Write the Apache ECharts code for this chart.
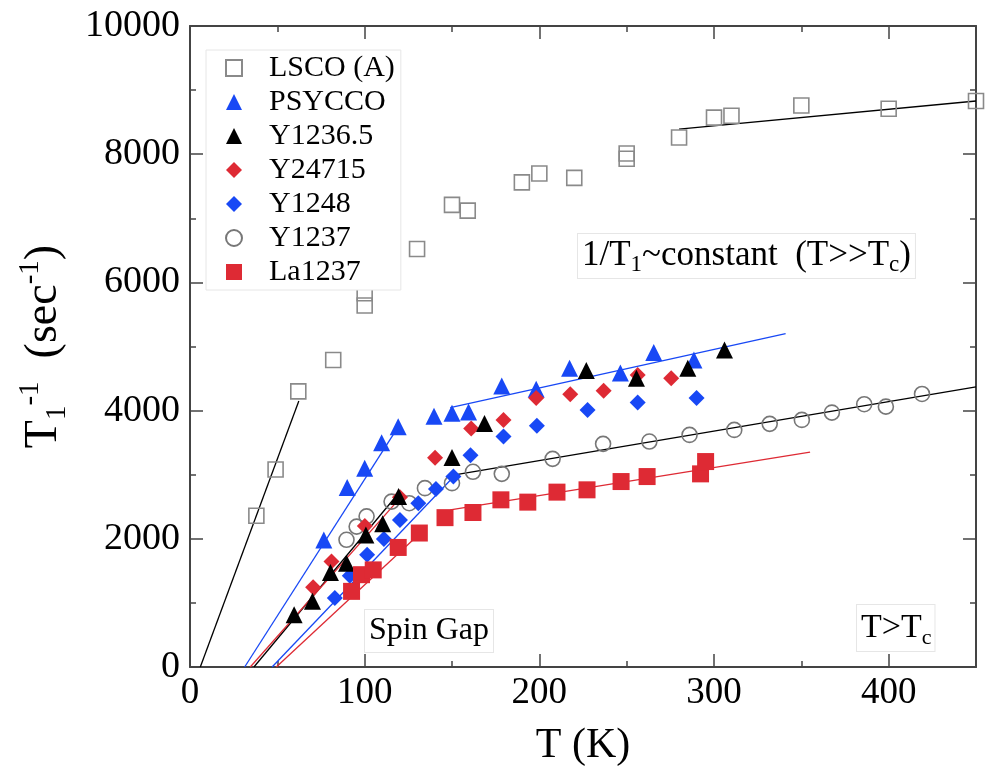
<!DOCTYPE html>
<html>
<head>
<meta charset="utf-8">
<script src="https://cdn.jsdelivr.net/npm/echarts@6/dist/echarts.min.js"></script>
<style>
  html, body { margin: 0; padding: 0; background: #fff; }
  #chart { width: 990px; height: 767px; }
</style>
</head>
<body>
<div id="chart"></div>
<script>
// data: [T (K), 1/T1 (sec^-1)]
const lsco = [[38,2360],[49,3080],[62,4300],[82,4790],[100,5830],[100,5640],[130,6520],[150,7210],[159,7120],[190,7560],[200,7700],[220,7630],[250,8010],[250,7930],[280,8260],[300,8570],[310,8600],[350,8760],[400,8710],[450,8830]]
const psycco = [[76.6,1980],[90,2800],[100,3100],[109.7,3500],[119.2,3750],[139.7,3910],[150,3960],[159.5,3980],[178.5,4385],[198.2,4335],[217.3,4660],[246.4,4585],[265.5,4905],[288.5,4790]]
const y12365 = [[59.6,815],[70.1,1025],[80.4,1475],[89.6,1620],[100.7,2060],[110.3,2235],[119.4,2660],[150,3270],[168.6,3800],[226.9,4625],[255.6,4505],[285,4660],[306,4945]]
const y24715 = [[70.5,1245],[81,1645],[100.1,2200],[120.2,2650],[140.3,3265],[161,3720],[179.5,3855],[198.2,4195],[217.7,4255],[236.8,4310],[256.3,4555],[275.5,4505]]
const y1248 = [[82.9,1075],[91.5,1425],[101.4,1750],[111,1995],[120.2,2295],[130.7,2555],[140.8,2775],[150.8,2970],[160.6,3305],[179.5,3595],[198.6,3765],[227.6,4010],[256.3,4125],[290,4195]]
const y1237 = [[89.6,1985],[95.4,2190],[101.1,2350],[115.4,2580],[125.5,2555],[134.5,2790],[150,2868],[162,3045],[178.5,3013],[207.6,3247],[236.5,3481],[263,3517],[286,3621],[311.6,3699],[331.9,3793],[350.3,3855],[367.5,3969],[386,4100],[398.4,4062],[419.1,4260]]
const la1237 = [[92.5,1180],[98.2,1440],[104.9,1515],[119.2,1865],[131.3,2090],[146,2330],[162,2410],[178,2608],[193.4,2572],[210.1,2728],[227.3,2764],[246.8,2893],[261.7,2971],[292.3,3013],[295.2,3205]]

// straight fit lines drawn in the figure (end points)
const fitLscoLow = [[5.9,0],[62.3,4150]]
const fitLscoHigh = [[280,8390],[450,8830]]
const fitPsyLow = [[31.3,0],[120,3780]]
const fitPsyHigh = [[149,4045],[341,5200]]
const fitY12365Low = [[36.6,0],[119.4,2710]]
const fitY24715Low = [[34.5,0],[122,2690]]
const fitY1248Low = [[47,0],[152,3000]]
const fitY1237High = [[149,2987],[450,4370]]
const fitLaLow = [[49.4,0],[135,2170]]
const fitLaHigh = [[149,2452],[355,3351]]

const xTicks = [0, 100, 200, 300, 400]
const yTicks = [0, 2000, 4000, 6000, 8000, 10000]

const serif = 'Liberation Serif'
const BLUE = '#1848f5'
const RED = '#de2a34'
const GREY = '#8a8a8a'

const chart = echarts.init(document.getElementById('chart'))

const scat = (name, data, symbol, size, color, open) => ({
  name, type: 'scatter', data, symbol, symbolSize: size, z: 3,
  itemStyle: open
    ? { color: 'rgba(255,255,255,0)', borderColor: color, borderWidth: 1.6, opacity: 1 }
    : { color, opacity: 1 }
})
const fit = (data, color) => ({
  type: 'line', data, symbol: 'none', silent: true, z: 2,
  lineStyle: { color, width: 1.3 }
})

const frameAxis = {
  min: 0,
  axisLine: { show: true, onZero: false, lineStyle: { color: '#444', width: 2 } },
  axisTick: { show: true, inside: true, length: 13, lineStyle: { color: '#444', width: 1.5 } },
  minorTick: { show: true, splitNumber: 2, length: 6, lineStyle: { color: '#444', width: 1.5 } },
  splitLine: { show: false }
}

const option = {
  backgroundColor: '#fff',
  animation: false,
  grid: { left: 190, top: 26, right: 14, bottom: 100, outerBoundsMode: 'none', containLabel: false },
  xAxis: [
    Object.assign({}, frameAxis, {
      type: 'value', max: 450, interval: 100, position: 'bottom',
      axisLabel: { color: '#000', fontFamily: serif, fontSize: 37, margin: 8,
        formatter: v => xTicks.includes(v) ? String(v) : '' },
      name: 'T (K)', nameLocation: 'middle', nameGap: 58,
      nameTextStyle: { color: '#000', fontFamily: serif, fontSize: 42 }
    }),
    Object.assign({}, frameAxis, {
      type: 'value', max: 450, interval: 100, position: 'top',
      axisLabel: { show: false }
    })
  ],
  yAxis: [
    Object.assign({}, frameAxis, {
      type: 'value', max: 10000, interval: 2000, position: 'left',
      axisLabel: { color: '#000', fontFamily: serif, fontSize: 38, margin: 10,
        formatter: v => yTicks.includes(v) ? String(v) : '' },
      name: '{m|T}{sb|1}{sp|-1}{m|  (sec}{sp|-1}{m|)}',
      nameLocation: 'middle', nameGap: 118, nameRotate: 90,
      nameTextStyle: {
        rich: {
          m: { fontFamily: serif, fontSize: 46, color: '#000', lineHeight: 56, verticalAlign: 'middle' },
          sb: { fontFamily: serif, fontSize: 29, color: '#000', lineHeight: 29, verticalAlign: 'bottom' },
          sp: { fontFamily: serif, fontSize: 29, color: '#000', lineHeight: 29, verticalAlign: 'top' }
        }
      }
    }),
    Object.assign({}, frameAxis, {
      type: 'value', max: 10000, interval: 2000, position: 'right',
      axisLabel: { show: false }
    })
  ],
  legend: {
    orient: 'vertical', left: 206, top: 50,
    padding: [3, 6, 3, 19],
    backgroundColor: '#fff', borderColor: '#e6e6e6', borderWidth: 1,
    itemWidth: 16, itemHeight: 16, itemGap: 4,
    data: ['LSCO (A)', 'PSYCCO', 'Y1236.5', 'Y24715', 'Y1248', 'Y1237', 'La1237'],
    textStyle: { fontFamily: serif, fontSize: 30, color: '#000', lineHeight: 28, padding: [0, 0, 0, 22] }
  },
  series: [
    fit(fitLscoLow, '#000'), fit(fitLscoHigh, '#000'),
    fit(fitPsyLow, BLUE), fit(fitPsyHigh, BLUE),
    fit(fitY12365Low, '#000'), fit(fitY24715Low, RED),
    fit(fitY1248Low, BLUE), fit(fitY1237High, '#000'),
    fit(fitLaLow, RED), fit(fitLaHigh, RED),
    scat('LSCO (A)', lsco, 'rect', 15, GREY, true),
    scat('Y1237', y1237, 'circle', 15, '#777', true),
    scat('PSYCCO', psycco, 'triangle', 17, BLUE),
    scat('Y1248', y1248, 'diamond', 16, BLUE),
    scat('Y24715', y24715, 'diamond', 16, RED),
    scat('Y1236.5', y12365, 'triangle', 17, '#000'),
    scat('La1237', la1237, 'rect', 17, RED)
  ],
  graphic: [
    {
      type: 'text', left: 577, top: 233, z: 10,
      style: {
        text: '{m|1/T}{s|1}{m|~constant  (T>>T}{s|c}{m|)}',
        backgroundColor: '#fff', borderColor: '#e6e6e6', borderWidth: 1, padding: [2, 4, 2, 4],
        rich: {
          m: { fontFamily: serif, fontSize: 35, fill: '#000', lineHeight: 40, verticalAlign: 'middle' },
          s: { fontFamily: serif, fontSize: 23, fill: '#000', lineHeight: 22, verticalAlign: 'bottom' }
        }
      }
    },
    {
      type: 'text', left: 364, top: 609, z: 10,
      style: {
        text: 'Spin Gap', fontFamily: serif, fontSize: 32, fill: '#000',
        backgroundColor: '#fff', borderColor: '#e6e6e6', borderWidth: 1, padding: [5, 4, 5, 4]
      }
    },
    {
      type: 'text', left: 856, top: 604, z: 10,
      style: {
        text: '{m|T>T}{s|c}',
        backgroundColor: '#fff', borderColor: '#e6e6e6', borderWidth: 1, padding: [2, 3, 2, 4],
        rich: {
          m: { fontFamily: serif, fontSize: 34, fill: '#000', lineHeight: 42, verticalAlign: 'middle' },
          s: { fontFamily: serif, fontSize: 22, fill: '#000', lineHeight: 22, verticalAlign: 'bottom' }
        }
      }
    }
  ]
}

chart.setOption(option)
window.addEventListener('resize', () => chart.resize())
</script>
</body>
</html>
